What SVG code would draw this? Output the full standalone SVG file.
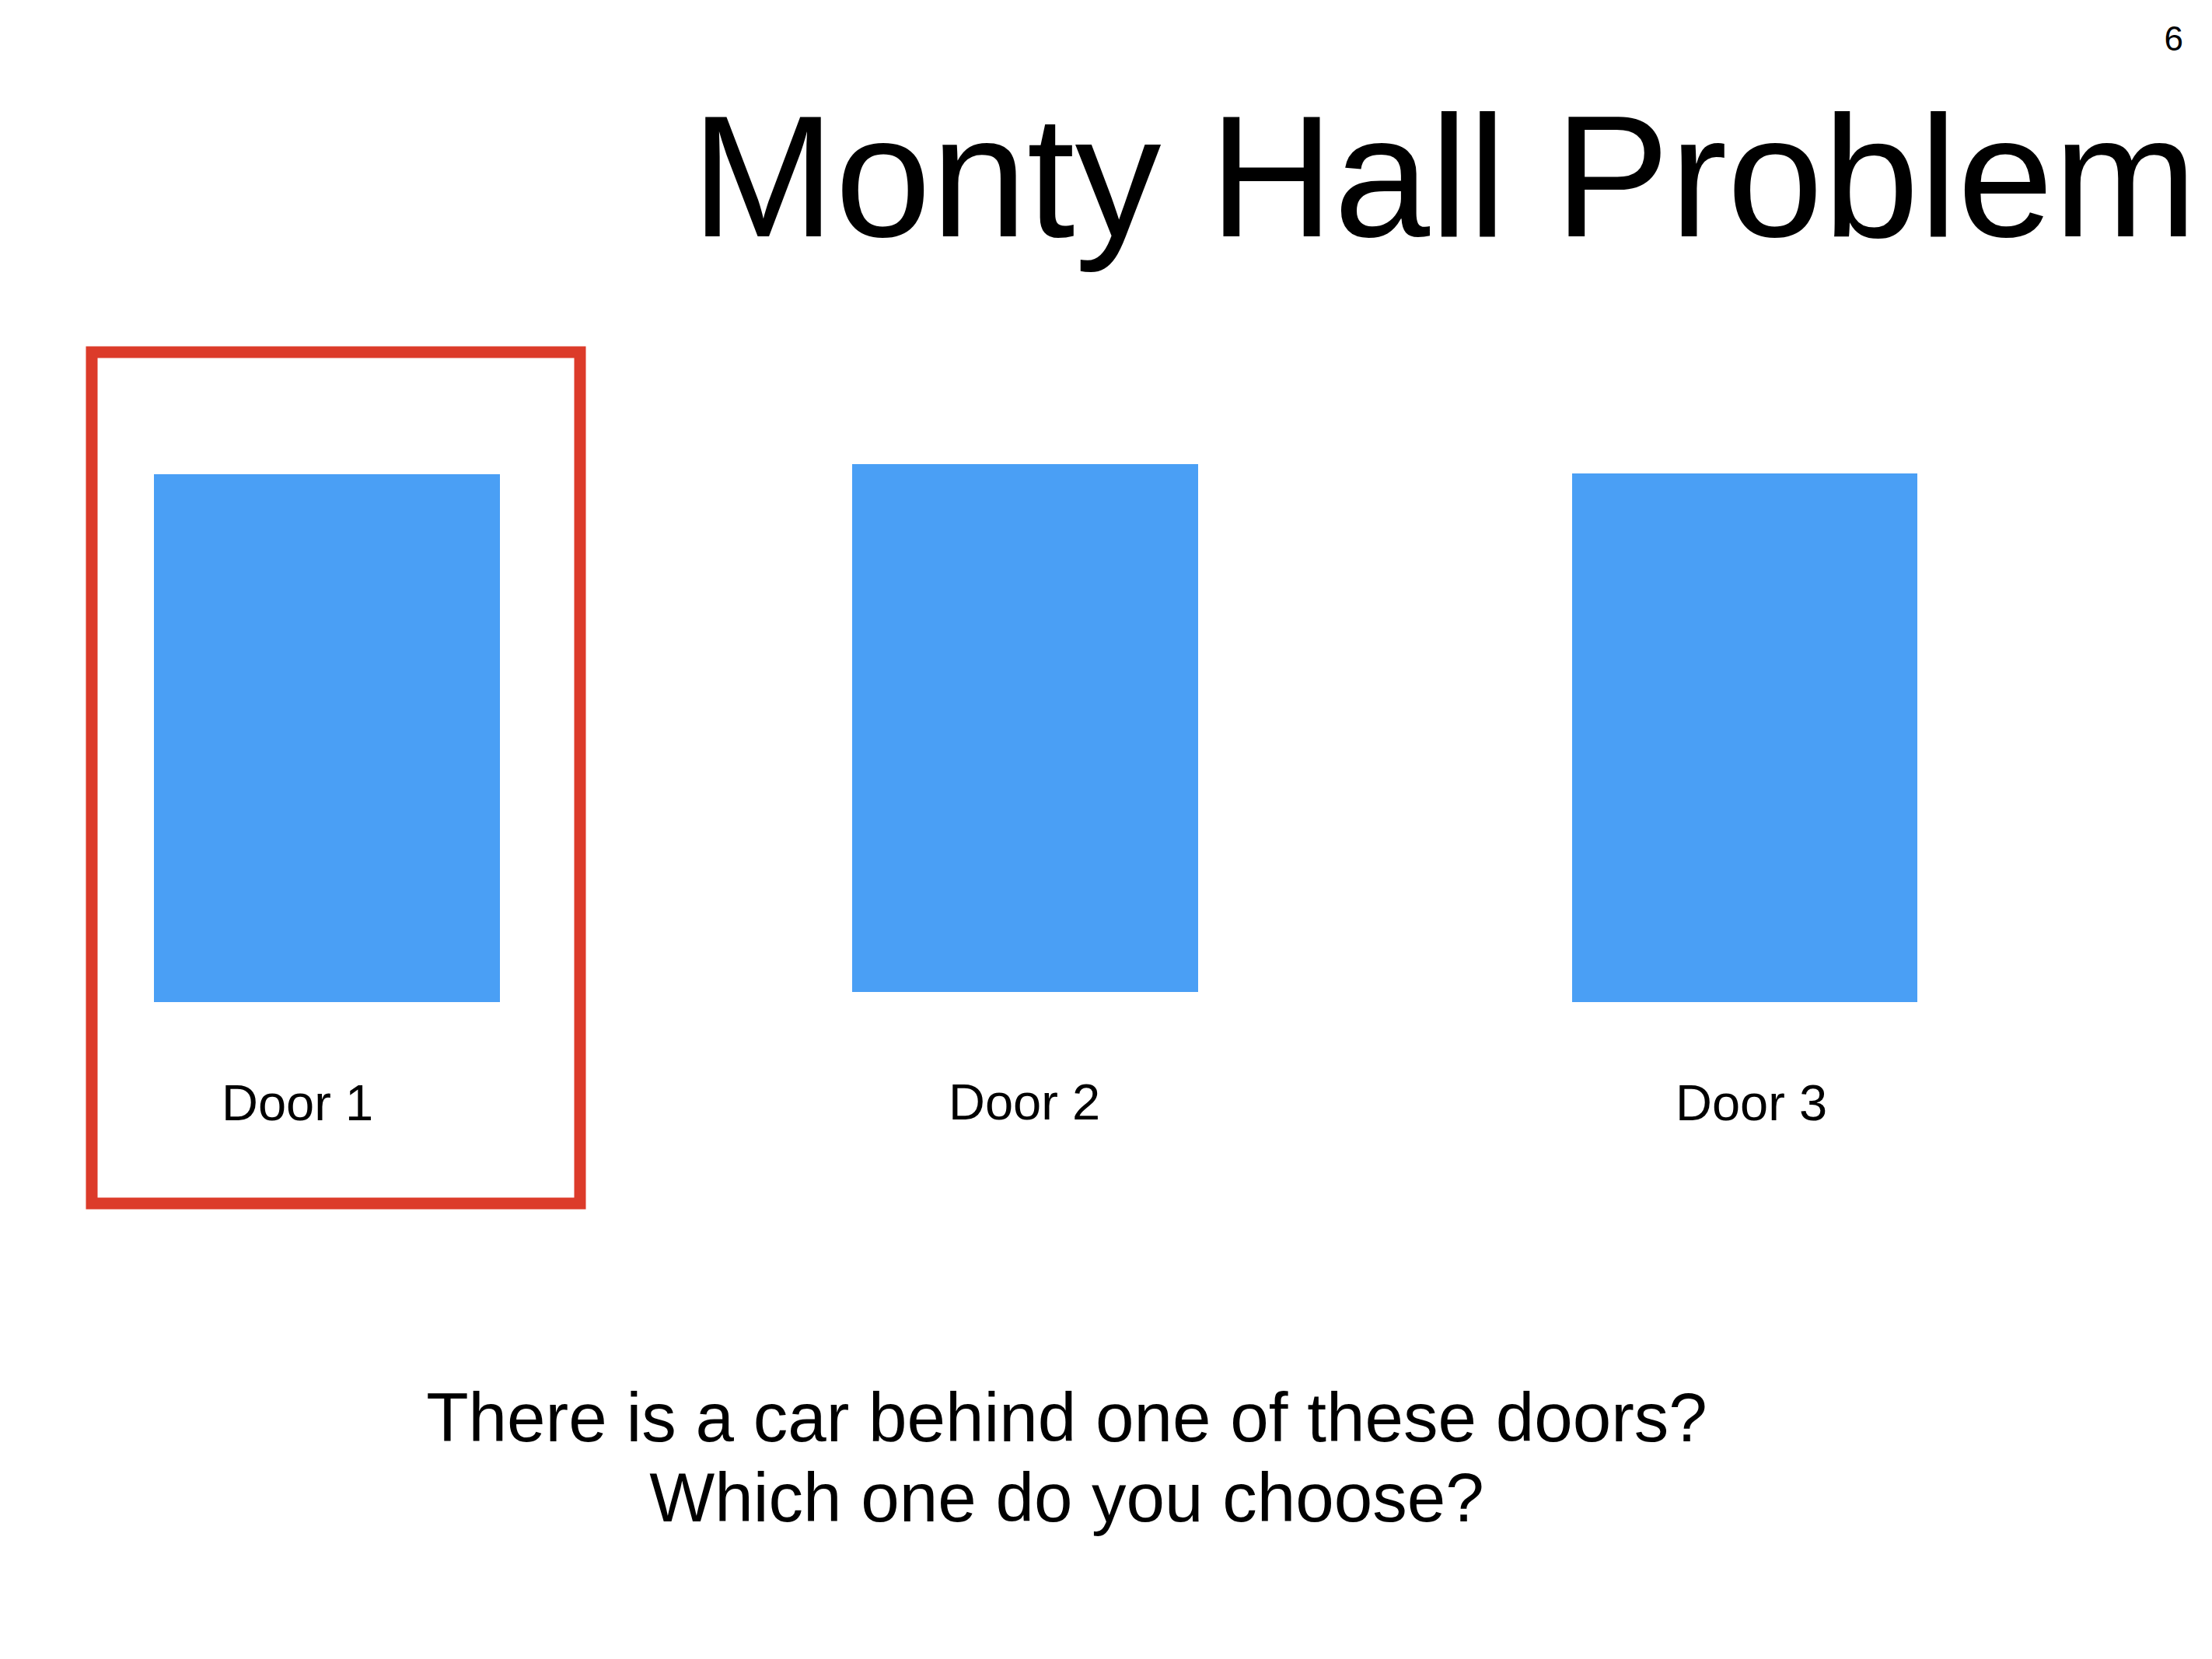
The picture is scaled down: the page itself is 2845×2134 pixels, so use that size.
<svg xmlns="http://www.w3.org/2000/svg" width="2845" height="2134" viewBox="0 0 2845 2134">
<style>
text{font-family:"Liberation Sans",Arial,Helvetica,sans-serif;fill:#000}
.door{fill:#4A9FF5}
.lbl{font-size:65px}
.q{font-size:89px}
</style>
<rect width="2845" height="2134" fill="#fff"/>
<text x="2808" y="65" font-size="44" text-anchor="end">6</text>
<text x="889" y="304" font-size="222">Monty Hall Problem</text>
<g id="door1">
<rect class="door" x="198" y="610" width="445" height="679"/>
<text class="lbl" x="285" y="1441">Door 1</text>
</g>
<g id="door2">
<rect class="door" x="1096" y="597" width="445" height="679"/>
<text class="lbl" x="1220" y="1440">Door 2</text>
</g>
<g id="door3">
<rect class="door" x="2022" y="609" width="444" height="680"/>
<text class="lbl" x="2155" y="1441">Door 3</text>
</g>
<g id="selection">
<rect x="118" y="453" width="628" height="1095" fill="none" stroke="#DC3B2A" stroke-width="15"/>
</g>
<g id="connectors"></g>
<text class="q" x="1372" y="1854" text-anchor="middle">There is a car behind one of these doors?</text>
<text class="q" x="1372" y="1957" text-anchor="middle">Which one do you choose?</text>
</svg>
